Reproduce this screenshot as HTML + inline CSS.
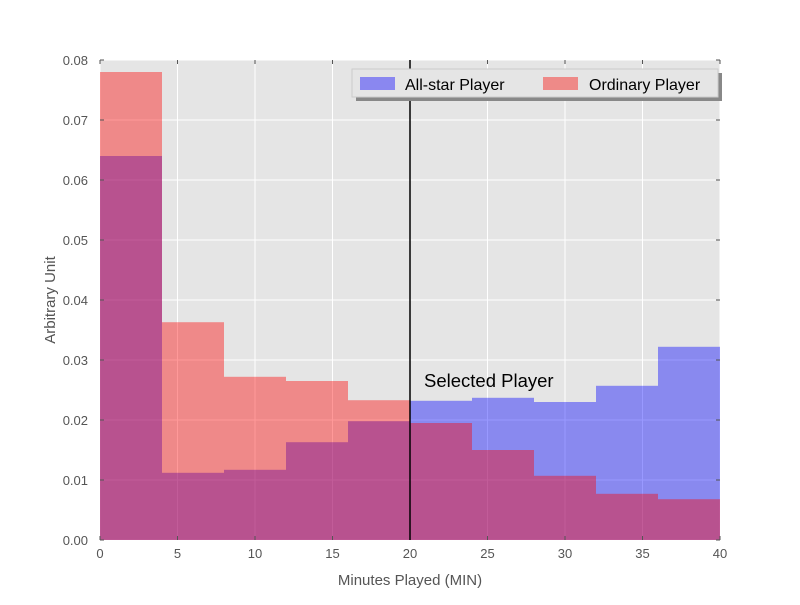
<!DOCTYPE html>
<html><head><meta charset="utf-8"><style>
body{margin:0;background:#fff;}
svg{font-family:"Liberation Sans",sans-serif;}
</style></head><body>
<svg id="chart" width="800" height="600">
<rect x="100" y="60" width="620" height="480" fill="#e5e5e5"/>
<g id="grid"></g>
<g id="bars"></g>
<g id="axes"></g>
<line x1="410" y1="60" x2="410" y2="540" stroke="#000" stroke-width="1.5"/>
<text x="424" y="387" font-size="18.5" fill="#000">Selected Player</text>
<text x="410" y="585" font-size="15" fill="#555" text-anchor="middle">Minutes Played (MIN)</text>
<text x="55" y="300" font-size="15" fill="#555" text-anchor="middle" transform="rotate(-90 55 300)">Arbitrary Unit</text>
<g>
<rect x="356" y="73" width="366" height="28" fill="#888"/>
<rect x="352" y="69" width="366" height="28" fill="#e5e5e5" stroke="#ccc"/>
<rect x="360" y="77" width="35" height="13" fill="#8a87f0"/>
<text x="405" y="90" font-size="16" fill="#000">All-star Player</text>
<rect x="543" y="77" width="35" height="13" fill="#ee8a88"/>
<text x="589" y="90" font-size="16" fill="#000">Ordinary Player</text>
</g>
</svg>
<script>
const binEdges=[0,4,8,12,16,20,24,28,32,36,40];
const allStar=[0.064,0.0112,0.0117,0.0163,0.0198,0.0232,0.0237,0.0230,0.0257,0.0322];
const ordinary=[0.078,0.0363,0.0272,0.0265,0.0233,0.0195,0.0150,0.0107,0.0077,0.0068];
const xTicks=[0,5,10,15,20,25,30,35,40];
const yTicks=[0,0.01,0.02,0.03,0.04,0.05,0.06,0.07,0.08];
const NS="http://www.w3.org/2000/svg";
const X=v=>100+v*620/40, Y=v=>540-v*6000;
function mk(t,a,p){const e=document.createElementNS(NS,t);for(const k in a)e.setAttribute(k,a[k]);p.appendChild(e);return e;}
const g=document.getElementById('grid'),b=document.getElementById('bars'),ax=document.getElementById('axes');
xTicks.forEach(v=>{const l=mk('line',{x1:X(v),x2:X(v),y1:60,y2:540,stroke:'#fff','stroke-width':1},g);


const t=mk('text',{x:X(v),y:558,'font-size':13,fill:'#555','text-anchor':'middle'},ax);t.textContent=v;


mk('line',{x1:X(v),x2:X(v),y1:60,y2:64,stroke:'#555'},ax);mk('line',{x1:X(v),x2:X(v),y1:536,y2:540,stroke:'#555'},ax);});
yTicks.forEach(v=>{const l=mk('line',{x1:100,x2:720,y1:Y(v),y2:Y(v),stroke:'#fff','stroke-width':1},g);


const t=mk('text',{x:88,y:Y(v)+5,'font-size':13,fill:'#555','text-anchor':'end'},ax);t.textContent=v.toFixed(2);


mk('line',{x1:100,x2:104,y1:Y(v),y2:Y(v),stroke:'#555'},ax);mk('line',{x1:716,x2:720,y1:Y(v),y2:Y(v),stroke:'#555'},ax);});
function draw(arr,col,name){arr.forEach((v,i)=>{const r=mk('rect',{x:X(binEdges[i]),y:Y(v),width:X(binEdges[i+1])-X(binEdges[i]),height:540-Y(v),fill:col,'fill-opacity':0.4},b);

});}
draw(allStar,'#0000ff','allstar');
draw(ordinary,'#ff0000','ordinary');
</script>
</body></html>
